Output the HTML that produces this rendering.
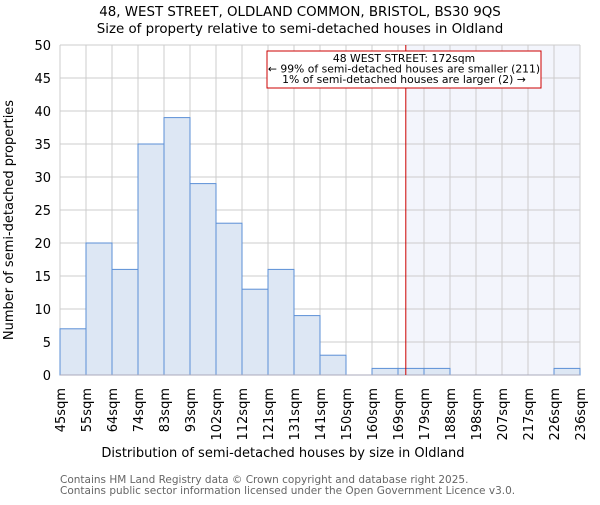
<!DOCTYPE html>
<html><head><meta charset="utf-8"><style>body{margin:0;background:#fff}svg{font-family:"DejaVu Sans","Liberation Sans",sans-serif}</style></head>
<body>
<svg id="chart" width="600" height="500">
<text x="300" y="16" text-anchor="middle" font-size="13.4">48, WEST STREET, OLDLAND COMMON, BRISTOL, BS30 9QS</text>
<text x="300" y="33" text-anchor="middle" font-size="13.4">Size of property relative to semi-detached houses in Oldland</text>
<g id="plot"></g>
<text x="283" y="457" text-anchor="middle" font-size="13">Distribution of semi-detached houses by size in Oldland</text>
<text transform="translate(13,220) rotate(-90)" text-anchor="middle" font-size="13">Number of semi-detached properties</text>
<text x="60" y="483" font-size="10.5" fill="#666">Contains HM Land Registry data © Crown copyright and database right 2025.</text>
<text x="60" y="494" font-size="10.5" fill="#666">Contains public sector information licensed under the Open Government Licence v3.0.</text>
</svg>
<script>
const binLabels=["45sqm","55sqm","64sqm","74sqm","83sqm","93sqm","102sqm","112sqm","121sqm","131sqm","141sqm","150sqm","160sqm","169sqm","179sqm","188sqm","198sqm","207sqm","217sqm","226sqm","236sqm"];
const counts=[7,20,16,35,39,29,23,13,16,9,3,0,1,1,1,0,0,0,0,1];
const yTicks=[0,5,10,15,20,25,30,35,40,45,50];
const markerPos=13.3; // bin-index position of 172sqm
const NS="http://www.w3.org/2000/svg";
const L=60,R=580,T=45,B=375,yMax=50;
const bw=(R-L)/counts.length;
const xs=i=>L+i*bw, ys=v=>B-(B-T)*v/yMax;
const g=document.getElementById('plot');
function mk(t,a,p){const e=document.createElementNS(NS,t);for(const k in a)e.setAttribute(k,a[k]);(p||g).appendChild(e);return e;}
let sh=mk('rect',{x:xs(markerPos),y:T,width:R-xs(markerPos),height:B-T,fill:'#f3f5fc'});


for(let i=0;i<binLabels.length;i++){let l=mk('line',{x1:xs(i),x2:xs(i),y1:T,y2:B,stroke:'#ccc'});

}
yTicks.forEach(v=>{let l=mk('line',{x1:L,x2:R,y1:ys(v),y2:ys(v),stroke:'#ccc'});


let t=mk('text',{x:L-9,y:ys(v)+5,'text-anchor':'end','font-size':13});t.textContent=v;

});
counts.forEach((c,i)=>{if(!c)return;let r=mk('rect',{x:xs(i),y:ys(c),width:bw,height:B-ys(c),fill:'#dde7f4',stroke:'#5b8fd6','stroke-width':1});

});
let ax=mk('line',{x1:L,x2:R,y1:B,y2:B,stroke:'#aab'});


binLabels.forEach((s,i)=>{let t=mk('text',{transform:`translate(${xs(i)+5},388) rotate(-90)`,'text-anchor':'end','font-size':13});t.textContent=s;

});
let ml=mk('line',{x1:xs(markerPos),x2:xs(markerPos),y1:T,y2:B,stroke:'#c00','stroke-width':1});


let box=mk('rect',{x:267,y:51,width:274,height:37,fill:'#fff',stroke:'#c00'});


["48 WEST STREET: 172sqm","← 99% of semi-detached houses are smaller (211)","1% of semi-detached houses are larger (2) →"].forEach((s,i)=>{let t=mk('text',{x:404,y:62+i*10.5,'text-anchor':'middle','font-size':10.8});t.textContent=s;

});
</script>
</body></html>
